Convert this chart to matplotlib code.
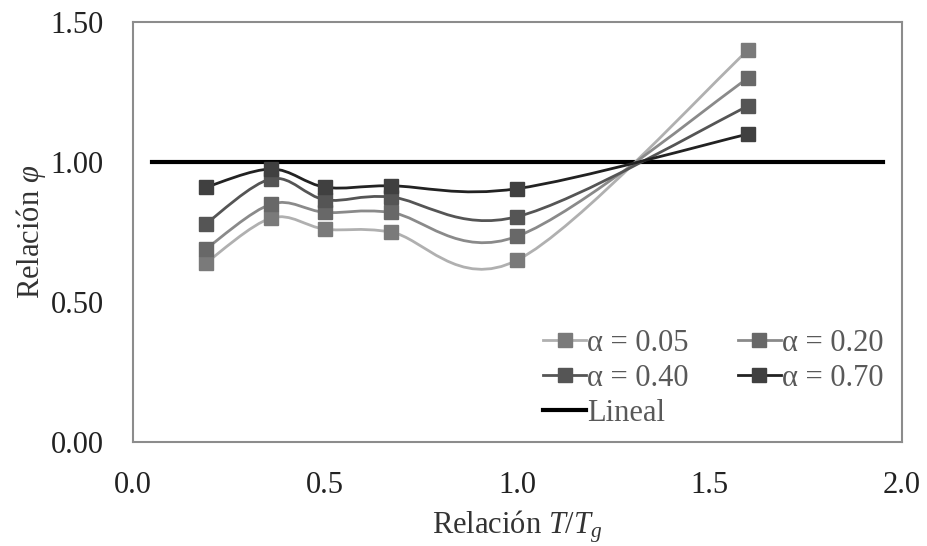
import matplotlib

matplotlib.use("Agg")
import matplotlib.pyplot as plt
from matplotlib.path import Path
from matplotlib.patches import PathPatch
from matplotlib.lines import Line2D

plt.rcParams["font.family"] = ["Liberation Serif", "DejaVu Serif"]
plt.rcParams["mathtext.fontset"] = "custom"
plt.rcParams["mathtext.rm"] = "Liberation Serif"
plt.rcParams["mathtext.it"] = "Liberation Serif:italic"

# Data
t_ratio = [0.19, 0.36, 0.50, 0.67, 1.00, 1.60]
phi_005 = [0.64, 0.80, 0.76, 0.75, 0.65, 1.40]
phi_020 = [0.69, 0.85, 0.82, 0.82, 0.735, 1.30]
phi_040 = [0.78, 0.94, 0.865, 0.875, 0.805, 1.20]
phi_070 = [0.91, 0.975, 0.91, 0.915, 0.905, 1.10]
series_labels = ["α = 0.05", "α = 0.20", "α = 0.40", "α = 0.70"]
lineal_x = [0.05, 1.95]
lineal_y = [1.0, 1.0]

line_colors = ["#b0b0b0", "#8a8a8a", "#555555", "#222222"]
marker_colors = ["#7a7a7a", "#686868", "#555555", "#404040"]
FS = 22


def smooth_path(xs, ys):
    """Catmull-Rom style bezier path (like Excel smoothed lines)"""
    pts = list(zip(xs, ys))
    verts = [pts[0]]
    codes = [Path.MOVETO]
    n = len(pts)
    for i in range(n - 1):
        p0 = pts[i - 1] if i > 0 else pts[i]
        p1 = pts[i]
        p2 = pts[i + 1]
        p3 = pts[i + 2] if i + 2 < n else pts[i + 1]
        c1 = (p1[0] + (p2[0] - p0[0]) / 6, p1[1] + (p2[1] - p0[1]) / 6)
        c2 = (p2[0] - (p3[0] - p1[0]) / 6, p2[1] - (p3[1] - p1[1]) / 6)
        verts += [c1, c2, p2]
        codes += [Path.CURVE4] * 3
    return Path(verts, codes)


fig = plt.figure(figsize=(9.27, 5.46), dpi=100)
ax = fig.add_axes([0.1435, 0.1905, 0.8295, 0.7692])

all_series = [phi_005, phi_020, phi_040, phi_070]
handles = []
for ys, lab, lc, mc in zip(all_series, series_labels, line_colors, marker_colors):
    ax.add_patch(
        PathPatch(smooth_path(t_ratio, ys), facecolor="none", edgecolor=lc, lw=2.0, zorder=3)
    )
    ax.plot(t_ratio, ys, ls="none", marker="s", ms=10.5, color=mc, mec=mc, zorder=4)
    handles.append(
        Line2D([], [], color=lc, lw=2.0, marker="s", ms=10.5, mfc=mc, mec=mc, label=lab)
    )

ax.plot(lineal_x, lineal_y, color="black", lw=3, zorder=2)
lineal_h = Line2D([], [], color="black", lw=3, label="Lineal")

ax.set_xlim(0, 2.0)
ax.set_ylim(0, 1.5)
ax.set_xticks([0.0, 0.5, 1.0, 1.5, 2.0])
ax.set_xticklabels(["0.0", "0.5", "1.0", "1.5", "2.0"])
ax.set_yticks([0.0, 0.5, 1.0, 1.5])
ax.set_yticklabels(["0.00", "0.50", "1.00", "1.50"])
ax.tick_params(axis="both", length=0, labelsize=FS, colors="#222222")
ax.tick_params(axis="y", pad=21)
ax.tick_params(axis="x", pad=21)
for s in ax.spines.values():
    s.set_color("#8c8c8c")
    s.set_linewidth(1.5)

ax.set_xlabel(r"Relación $T/T_g$", fontsize=FS, color="#333333", labelpad=6)
ax.set_ylabel(r"Relación $\varphi$", fontsize=FS, color="#333333", labelpad=2)

order = [handles[0], handles[2], lineal_h, handles[1], handles[3]]
leg = ax.legend(
    handles=order,
    ncol=2,
    frameon=False,
    fontsize=FS,
    loc="lower right",
    bbox_to_anchor=(1.0, -0.01),
    handlelength=1.4,
    handletextpad=0.05,
    columnspacing=1.6,
    labelspacing=0.2,
    borderaxespad=0.2,
)
for t in leg.get_texts():
    t.set_color("#595959")

fig.savefig("out.png", dpi=100)
